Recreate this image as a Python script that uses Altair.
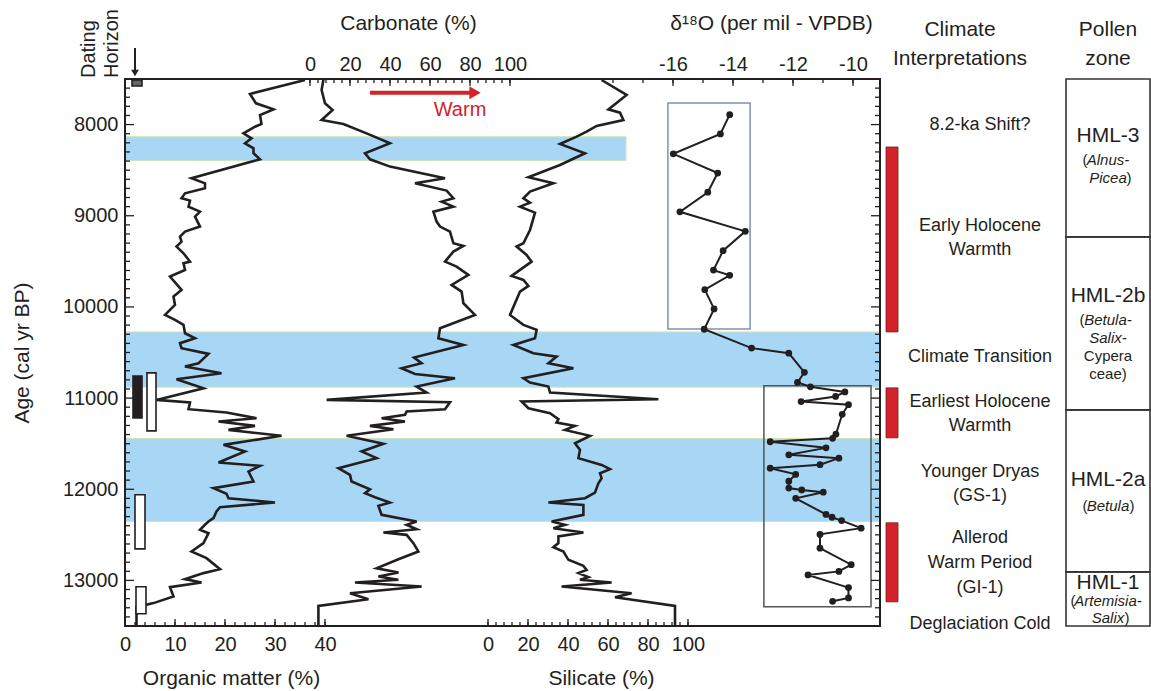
import altair as alt
import pandas as pd

FONT = "Liberation Sans"
INK = "#231f20"
BLUE = "#a7d7f4"
RED = "#d2232a"
W, H = 1025, 547

# ---------------- data ----------------
om_age = [7511, 7664, 7767, 7833, 7895, 7993, 8023, 8096, 8151, 8205, 8260, 8315, 8381, 8589, 8644,
          8699, 8754, 8808, 8834, 8900, 8955, 9010, 9119, 9174, 9229, 9284, 9338, 9412, 9503, 9521,
          9594, 9667, 9814, 9887, 9978, 10088, 10143, 10197, 10289, 10344, 10398, 10453, 10515, 10618,
          10654, 10727, 10793, 10892, 11020, 11049, 11122, 11159, 11221, 11257, 11305, 11349, 11414,
          11513, 11586, 11707, 11743, 11806, 11915, 11988, 12050, 12098, 12145, 12197, 12244, 12317,
          12354, 12390, 12445, 12482, 12591, 12683, 12756, 12877, 12920, 12986, 13023, 13074, 13176,
          13249, 13293, 13500]
om_val = [36, 25, 26.2, 29.7, 27, 27.3, 26, 23.7, 25.3, 24, 25.7, 25.7, 27, 13.3, 16,
          16, 12, 11.3, 13, 12.7, 15, 14, 15, 12, 11, 11.3, 10.3, 11.7, 13, 11.7,
          12, 9, 11.3, 9.7, 10, 8, 10, 11.7, 12, 14, 11, 11.3, 16.7, 14.7,
          12, 19.3, 10.3, 15.7, 6.3, 13, 12.7, 20.3, 26.3, 18.7, 26, 20.7, 31.3,
          19.7, 24, 18.7, 27, 24.7, 25.7, 17.7, 20.3, 20.7, 30, 19, 18.3, 17.7,
          16.7, 16, 15, 16.7, 15.7, 13.3, 16.3, 19, 15.7, 12, 15.3, 9, 9.7,
          5.7, 2.3, 2.3]

ca_age = [7511, 7621, 7767, 7840, 7950, 7993, 8096, 8205, 8315, 8381, 8461, 8589, 8644, 8724, 8808,
          8845, 8900, 8955, 9064, 9119, 9174, 9302, 9331, 9393, 9503, 9558, 9649, 9759, 9832, 9960,
          10088, 10234, 10344, 10417, 10555, 10618, 10673, 10735, 10782, 10874, 10939, 11020, 11045,
          11122, 11148, 11184, 11221, 11257, 11305, 11341, 11414, 11502, 11586, 11659, 11769, 11842,
          11915, 12000, 12043, 12087, 12146, 12182, 12281, 12354, 12390, 12438, 12475, 12500, 12591,
          12683, 12767, 12866, 12913, 12957, 12993, 13023, 13067, 13140, 13206, 13279, 13500]
ca_val = [6.7, 5.8, 7.5, 11.3, 5.8, 16.7, 28.3, 40, 27.5, 30, 40, 67.5, 52.5, 68.3, 71.7,
          65.8, 71.7, 61.7, 63.3, 65, 70, 71.7, 76.7, 71.7, 67.5, 73.3, 79.2, 70.8, 75.8, 76.7,
          82.5, 65, 64.2, 76.7, 52, 55.8, 45.8, 52.5, 72.5, 53.3, 58.3, 8.3, 70,
          67.5, 48.3, 47.5, 35.8, 47.5, 30, 41.7, 18.3, 36.7, 25.8, 33.3, 14.2, 20,
          20.8, 30, 27.5, 32.5, 40, 34.2, 35.8, 53.3, 48.3, 53.3, 36.7, 48.3, 51.7,
          54.2, 44.2, 33.3, 44.2, 34.2, 44.2, 22.5, 55.8, 20, 29.2, 4.2, 4.2]

si_age = [7511, 7675, 7833, 7869, 7950, 8015, 8078, 8132, 8213, 8315, 8443, 8578, 8644, 8735, 8808,
          8856, 8900, 8966, 9156, 9302, 9338, 9430, 9503, 9660, 9704, 9770, 9832, 10088, 10197,
          10252, 10344, 10417, 10508, 10545, 10618, 10673, 10782, 10830, 10874, 10939, 11012, 11038,
          11111, 11166, 11232, 11268, 11305, 11349, 11414, 11495, 11568, 11659, 11733, 11780, 11824,
          11879, 11934, 11988, 12036, 12098, 12145, 12171, 12281, 12354, 12390, 12427, 12474, 12518,
          12591, 12635, 12683, 12774, 12840, 12884, 12920, 12964, 12993, 13023, 13067, 13140, 13184,
          13279, 13500]
si_val = [56.8, 69.3, 60.2, 66, 67.7, 54.3, 49.3, 44.3, 36, 48.5, 36, 20.2, 32.7, 21, 17.7,
          21, 16, 23.5, 21, 17.7, 14.3, 19.3, 21.8, 11.8, 17.7, 20.2, 16, 11, 17.7,
          24.3, 23.5, 12.7, 22.7, 34.3, 30.2, 42.7, 17.7, 21, 30.2, 31, 85.2, 16.8,
          20.2, 31, 35.2, 34.3, 43.5, 38.5, 51, 43.5, 46, 45.2, 56.8, 61, 56,
          56.8, 55.2, 54.3, 53.5, 48.5, 30.2, 47.7, 47.7, 31.8, 38.5, 32.7, 47.7, 35.2,
          35.2, 32.7, 37.7, 40.2, 47.7, 49.3, 45.2, 50.2, 46, 61.8, 36.8, 71.8, 63.5,
          93.5, 93.5]

d18_age = [7891, 8102, 8321, 8532, 8742, 8957, 9171, 9383, 9596, 9653, 9811, 10022, 10245, 10452,
           10508, 10718, 10828, 10876, 10933, 10982, 11038, 11072, 11178, 11396, 11441, 11479, 11546,
           11622, 11659, 11731, 11769, 11837, 11912, 11987, 12007, 12032, 12100, 12276, 12307, 12344,
           12427, 12495, 12646, 12827, 12901, 12940, 13079, 13192, 13229]
d18_val = [-14.11, -14.42, -15.99, -14.51, -14.84, -15.77, -13.59, -14.33, -14.65, -14.11, -14.94,
           -14.63, -14.96, -13.38, -12.14, -11.62, -11.85, -11.42, -10.27, -10.58, -11.73, -10.15,
           -10.36, -10.57, -10.68, -12.76, -10.9, -12.14, -10.47, -11.1, -12.76, -11.91, -12.14,
           -12.14, -11.71, -10.99, -11.91, -10.9, -10.7, -10.38, -9.73, -11.1, -11.1, -10.06,
           -10.47, -11.5, -10.15, -10.15, -10.68]

d18_box_top = [7763, 10866]
d18_box_bot = [10241, 13289]
d18_box_lo = [-16.17, -12.97]
d18_box_hi = [-13.43, -9.4]
d18_box_col = ["#8190b2", "#555555"]

band_top = [10274, 11444]
band_bot = [10880, 12354]
band1_top, band1_bot = [8133], [8396]

warm_top = [8246, 10888, 12368]
warm_bot = [10274, 11436, 13235]

pollen_top = [7500, 9232, 11129, 12906]
pollen_bot = [9232, 11129, 12906, 13500]
pollen_names = ["HML-3", "HML-2b", "HML-2a", "HML-1"]
pollen_name_age = [8125, 9879, 11897, 13026]
pollen_taxa = ["Alnus-", "Picea", "Betula-", "Salix-", "Betula", "Artemisia-", "Salix"]
pollen_taxa_age = [8388, 8586, 10143, 10340, 12182, 13224, 13410]
pollen_plain = ["Cypera", "ceae)"]
pollen_plain_age = [10537, 10735]
# parentheses drawn upright next to the italic taxa: (age, text, horizontal offset)
paren_age = [8388, 8586, 10143, 12182, 12182, 13224, 13410]
paren_txt = ["(", ")", "(", "(", ")", "(", ")"]
paren_dx = [-23, 21, -26, -23, 24, -35, 19]

climate_labels = ["8.2-ka Shift?", "Early Holocene", "Warmth", "Climate Transition",
                  "Earliest Holocene", "Warmth", "Younger Dryas", "(GS-1)", "Allerod",
                  "Warm Period", "(GI-1)", "Deglaciation Cold"]
climate_age = [8004, 9112, 9375, 10548, 11042, 11305, 11809, 12072, 12533, 12807, 13081, 13476]

# dating horizons (x extent given in organic-matter % units)
dh_top = [7511, 10757, 10724, 12061, 13070]
dh_bot = [7577, 11217, 11360, 12654, 13366]
dh_lo = [1.4, 1.6, 4.4, 2.0, 2.2]
dh_hi = [3.4, 3.4, 6.2, 4.0, 4.2]
dh_fill = ["#666666", INK, "#ffffff", "#ffffff", "#ffffff"]

warm_arrow_ca = [30, 80]
warm_arrow_age = 7650
warm_head_ca = 82.5
warm_text_ca = 75
warm_text_age = 7840

age_minor = [a for a in range(7600, 13500, 100) if a % 1000 != 0]
age_major = [8000, 9000, 10000, 11000, 12000, 13000]
ca_ticks = list(range(0, 101, 4))
ca_major = list(range(0, 101, 20))
d18_ticks = list(range(-18, -9))
d18_major = [-16, -14, -12, -10]
om_ticks = list(range(0, 41, 2))
om_major = [0, 10, 20, 30, 40]
si_ticks = list(range(0, 101, 4))
si_major = list(range(0, 101, 20))

# ---------------- scales / axes ----------------
YS = alt.Scale(domain=[7500, 13500], reverse=True, nice=False, zero=False)
YAX = alt.Axis(title="Age (cal yr BP)", values=age_major, format="d", tickSize=0, domain=False,
               labelFont=FONT, labelFontSize=20, labelColor=INK, labelPadding=7, labelFlush=False,
               titleFont=FONT, titleFontSize=21, titleFontWeight="normal", titleColor=INK,
               titleX=-103, titleY=H / 2, titleAngle=270, titleAlign="center",
               titleBaseline="middle", grid=False)


def Y(field="age"):
    return alt.Y(f"{field}:Q", scale=YS, axis=YAX)


def sc(domain, rng):
    return alt.Scale(domain=domain, range=rng, nice=False, zero=False)


OM = ([0, 40], [0, 200])
CA = ([0, 100], [185, 385])
SI = ([0, 100], [363, 563])
DO = ([-16, -10], [548, 728])


def axis(orient, values, title, tx, ty, expr=None):
    kw = dict(orient=orient, values=values, title=title, tickSize=0, domain=False, grid=False,
              labelFont=FONT, labelFontSize=20, labelColor=INK, labelFlush=False, labelOverlap=False,
              labelPadding=5 if orient == "top" else 8,
              titleFont=FONT, titleFontSize=21, titleFontWeight="normal", titleColor=INK,
              titleX=tx, titleY=ty, titleAlign="center", titleBaseline="middle")
    if expr:
        kw["labelExpr"] = expr
    return alt.Axis(**kw)


def X(field, s, ax=None):
    if ax is None:
        return alt.X(f"{field}:Q", scale=sc(*s), axis=None)
    return alt.X(f"{field}:Q", scale=sc(*s), axis=ax)


def df(**cols):
    return pd.DataFrame(cols)


layers = []

# blue bands
layers.append(alt.Chart(df(age=band1_top, age2=band1_bot)).mark_rect(
    fill=BLUE, stroke="#cfe6b4", strokeWidth=1).encode(
    x=alt.value(0), x2=alt.value(501), y=Y(), y2="age2:Q"))
layers.append(alt.Chart(df(age=band_top, age2=band_bot)).mark_rect(
    fill=BLUE, stroke="#cfe6b4", strokeWidth=1).encode(
    x=alt.value(0), x2=alt.value(755), y=Y(), y2="age2:Q"))

# curves
line_kw = dict(color=INK, strokeWidth=2.6, strokeJoin="miter")
layers.append(alt.Chart(df(age=om_age, v=om_val)).mark_line(**line_kw).encode(
    x=X("v", OM, axis("bottom", om_major, "Organic matter (%)", 106, 52)),
    y=Y(), order="age:Q"))
layers.append(alt.Chart(df(age=ca_age, v=ca_val)).mark_line(**line_kw).encode(
    x=X("v", CA, axis("top", ca_major, "Carbonate (%)", 283, -56)),
    y=Y(), order="age:Q"))
layers.append(alt.Chart(df(age=si_age, v=si_val)).mark_line(**line_kw).encode(
    x=X("v", SI, axis("bottom", si_major, "Silicate (%)", 476, 52)),
    y=Y(), order="age:Q"))

# d18O boxes, line, points
layers.append(alt.Chart(df(age=d18_box_top, age2=d18_box_bot, lo=d18_box_lo, hi=d18_box_hi,
                           c=d18_box_col)).mark_rect(fillOpacity=0, strokeWidth=1.5).encode(
    x=X("lo", DO), x2="hi:Q", y=Y(), y2="age2:Q",
    stroke=alt.Stroke("c:N", scale=None)))
layers.append(alt.Chart(df(age=d18_age, v=d18_val)).mark_line(color=INK, strokeWidth=2).encode(
    x=X("v", DO, axis("top", d18_major, "δ¹⁸O (per mil - VPDB)", 646, -56,
                      "'-' + abs(datum.value)")),
    y=Y(), order="age:Q"))
layers.append(alt.Chart(df(age=d18_age, v=d18_val)).mark_circle(color=INK, size=46, opacity=1).encode(
    x=X("v", DO), y=Y()))

# dating horizons
layers.append(alt.Chart(df(age=dh_top, age2=dh_bot, lo=dh_lo, hi=dh_hi, f=dh_fill)).mark_rect(
    stroke=INK, strokeWidth=1.6).encode(
    x=X("lo", OM), x2="hi:Q", y=Y(), y2="age2:Q", fill=alt.Fill("f:N", scale=None)))

# warm arrow
layers.append(alt.Chart(df(age=[warm_arrow_age, warm_arrow_age], v=warm_arrow_ca)).mark_line(
    color=RED, strokeWidth=4).encode(x=X("v", CA), y=Y()))
layers.append(alt.Chart(df(age=[warm_arrow_age], v=[warm_head_ca])).mark_point(
    shape="triangle-right", filled=True, color=RED, size=170, opacity=1).encode(x=X("v", CA), y=Y()))
layers.append(alt.Chart(df(age=[warm_text_age], v=[warm_text_ca], t=["Warm"])).mark_text(
    font=FONT, fontSize=20, color=RED).encode(x=X("v", CA), y=Y(), text="t:N"))

# frame and inward ticks
layers.append(alt.Chart(df(age=[7500], age2=[13500])).mark_rect(
    fillOpacity=0, stroke=INK, strokeWidth=2).encode(
    x=alt.value(0), x2=alt.value(755), y=Y(), y2="age2:Q"))
tick_kw = dict(color=INK, strokeWidth=1.3)
layers.append(alt.Chart(df(age=age_minor)).mark_rule(**tick_kw).encode(
    x=alt.value(0), x2=alt.value(5), y=Y()))
layers.append(alt.Chart(df(age=age_major)).mark_rule(**tick_kw).encode(
    x=alt.value(0), x2=alt.value(9), y=Y()))
layers.append(alt.Chart(df(age=age_minor)).mark_rule(**tick_kw).encode(
    x=alt.value(755), x2=alt.value(750), y=Y()))
layers.append(alt.Chart(df(age=age_major)).mark_rule(**tick_kw).encode(
    x=alt.value(755), x2=alt.value(746), y=Y()))
for vals, s, top, ln in [(ca_ticks, CA, True, 4), (ca_major, CA, True, 7),
                         (d18_ticks, DO, True, 4), (d18_major, DO, True, 7),
                         (om_ticks, OM, False, 4), (om_major, OM, False, 7),
                         (si_ticks, SI, False, 4), (si_major, SI, False, 7)]:
    y0, y1 = (0, ln) if top else (H, H - ln)
    layers.append(alt.Chart(df(v=vals)).mark_rule(**tick_kw).encode(
        x=X("v", s), y=alt.value(y0), y2=alt.value(y1)))

# climate interpretation column
layers.append(alt.Chart(df(age=warm_top, age2=warm_bot)).mark_rect(
    fill=RED, stroke="#7a1a1a", strokeWidth=0.8).encode(
    x=alt.value(761), x2=alt.value(773), y=Y(), y2="age2:Q"))
layers.append(alt.Chart(df(age=climate_age, t=climate_labels)).mark_text(
    font=FONT, fontSize=18, color=INK).encode(x=alt.value(855), y=Y(), text="t:N"))

# pollen zone column
layers.append(alt.Chart(df(age=pollen_top, age2=pollen_bot)).mark_rect(
    fillOpacity=0, stroke="#333333", strokeWidth=1.6).encode(
    x=alt.value(941), x2=alt.value(1025), y=Y(), y2="age2:Q"))
layers.append(alt.Chart(df(age=pollen_name_age, t=pollen_names)).mark_text(
    font=FONT, fontSize=21, color=INK).encode(x=alt.value(983), y=Y(), text="t:N"))
layers.append(alt.Chart(df(age=pollen_taxa_age, t=pollen_taxa)).mark_text(
    font=FONT, fontSize=15, fontStyle="italic", color=INK).encode(x=alt.value(983), y=Y(), text="t:N"))
layers.append(alt.Chart(df(age=pollen_plain_age, t=pollen_plain)).mark_text(
    font=FONT, fontSize=15, color=INK).encode(x=alt.value(983), y=Y(), text="t:N"))
for a, t, dx in zip(paren_age, paren_txt, paren_dx):
    layers.append(alt.Chart(df(age=[a], t=[t])).mark_text(
        font=FONT, fontSize=15, color=INK, dx=dx).encode(x=alt.value(983), y=Y(), text="t:N"))

# headers
hdr = df(t=["Climate", "Interpretations", "Pollen", "zone"],
         hx=[835, 835, 983, 983], hy=[-49, -20, -49, -20])
for i in range(4):
    layers.append(alt.Chart(hdr.iloc[[i]]).mark_text(
        font=FONT, fontSize=21, color=INK).encode(
        x=alt.value(int(hdr.hx[i])), y=alt.value(int(hdr.hy[i])), text="t:N"))

# dating horizon label + arrow
for t, xv in [("Dating", -36), ("Horizon", -13)]:
    layers.append(alt.Chart(df(t=[t])).mark_text(
        font=FONT, fontSize=20, color=INK, angle=270, align="left", baseline="middle").encode(
        x=alt.value(xv), y=alt.value(-1), text="t:N"))
layers.append(alt.Chart(df(t=["a"])).mark_rule(color=INK, strokeWidth=2).encode(
    x=alt.value(10), y=alt.value(-31), y2=alt.value(-9)))
layers.append(alt.Chart(df(t=["a"])).mark_point(
    shape="triangle-down", filled=True, color=INK, size=60, opacity=1).encode(
    x=alt.value(10), y=alt.value(-6)))

chart = alt.layer(*layers).resolve_scale(x="independent").properties(
    width=W, height=H,
    autosize=alt.AutoSizeParams(type="none"),
    padding={"left": 125, "top": 79, "right": 1, "bottom": 65},
).configure_view(strokeWidth=0)

chart.save("out.html", embed_options={"renderer": "svg", "actions": False})
